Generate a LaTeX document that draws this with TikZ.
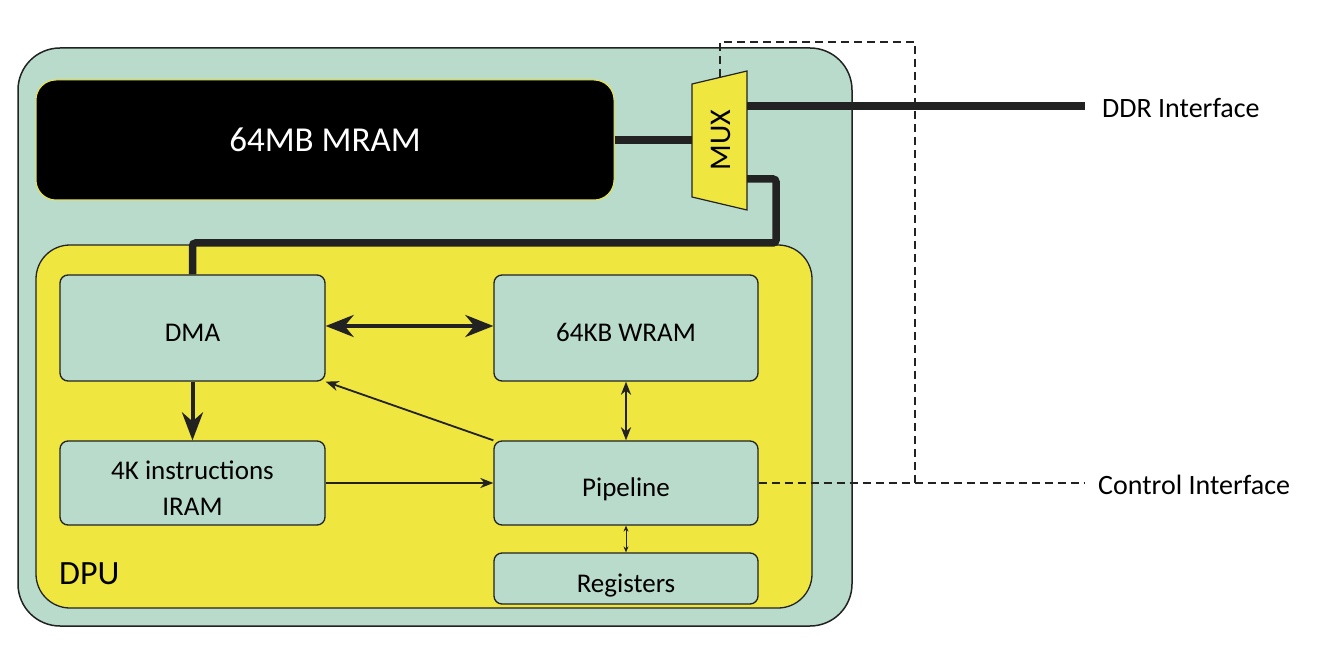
\documentclass[tikz,border=0pt]{standalone}
\usepackage{fontspec}
\setmainfont{Carlito}
\usetikzlibrary{arrows.meta}
\definecolor{mint}{HTML}{B9DBCB}
\definecolor{dpuyellow}{HTML}{F0E640}
\definecolor{ink}{HTML}{222222}
\begin{document}
\begin{tikzpicture}[x=1pt,y=-1pt,
  chipbox/.style={draw=ink, line width=1.5pt, fill=mint, rounded corners=42pt, inner sep=0pt},
  dpubox/.style={draw=ink, line width=1.3pt, fill=dpuyellow, rounded corners=34pt, inner sep=0pt},
  mrambox/.style={draw=dpuyellow, line width=1pt, fill=black, rounded corners=20pt, text=white, font=\fontsize{35}{42}\selectfont, inner sep=0pt},
  blk/.style={draw=ink, line width=1.3pt, fill=mint, rounded corners=8pt, font=\fontsize{27}{33}\selectfont, text=black, inner sep=0pt, align=center},
  onel/.style={text height=27pt, text depth=0pt},
  bus/.style={draw=ink, line width=7.5pt},
  ctrl/.style={draw=ink, line width=1.8pt, dash pattern=on 8pt off 5pt},
  bigarr/.style={draw=ink, line width=4pt, {Stealth[length=28pt,width=22pt,inset=9pt]}-{Stealth[length=28pt,width=22pt,inset=9pt]}},
  downarr/.style={draw=ink, line width=4pt, -{Stealth[length=28pt,width=21pt,inset=9pt]}},
  midarr/.style={draw=ink, line width=2.2pt, {Stealth[length=13pt,width=10pt,inset=4pt]}-{Stealth[length=13pt,width=10pt,inset=4pt]}},
  thinarr/.style={draw=ink, line width=1.8pt, -{Stealth[length=13pt,width=10pt,inset=4pt]}},
  tinyarr/.style={draw=ink, line width=0.9pt, {Stealth[length=6pt,width=5pt,inset=2pt]}-{Stealth[length=6pt,width=5pt,inset=2pt]}},
  lab/.style={font=\fontsize{28}{34}\selectfont, text=black, anchor=west, inner sep=0pt}
]
\useasboundingbox (0,0) rectangle (1342,647);

% containers
\node[chipbox, minimum width=834pt, minimum height=578pt] (chip) at (435,337) {};
\node[mrambox, minimum width=578pt, minimum height=120pt] (mram) at (325,140) {64MB MRAM};
\node[dpubox, minimum width=776pt, minimum height=363pt] (dpu) at (424,426.5) {};
\node[font=\fontsize{34}{40}\selectfont, anchor=west, inner sep=0pt, text=black] (dpulab) at (59,574) {DPU};

% blocks
\node[blk, onel, minimum width=265pt, minimum height=106pt] (dma) at (192.5,328) {DMA};
\node[blk, onel, minimum width=264pt, minimum height=106pt] (wram) at (626,328) {64KB WRAM};
\node[blk, minimum width=265pt, minimum height=84pt] (iram) at (192.5,483) {\begin{tabular}{@{}c@{}}\rule{0pt}{38pt}4K instructions\\[3pt]IRAM\end{tabular}};
\node[blk, onel, minimum width=264pt, minimum height=84pt] (pipe) at (626,483) {Pipeline};
\node[blk, onel, minimum width=264pt, minimum height=51pt] (regs) at (626,578.5) {Registers};

% MUX
\draw[draw=ink, line width=1.2pt, fill=dpuyellow] (692,84) -- (747,71) -- (747,210) -- (692,197) -- cycle;
\node[rotate=90, font=\fontsize{30}{36}\selectfont, text=black, inner sep=0pt] (mux) at (721,140) {MUX};
\coordinate (muxW) at (692,140);
\coordinate (muxE1) at (747,106);
\coordinate (muxE2) at (747,179);
\coordinate (muxT) at (720,77);
\coordinate (ddr) at (1085,106);
\coordinate (ctrlend) at (1085,483);
\coordinate (ctrlcorner) at (915,42);
\coordinate (busturn) at (776,243);

% buses
\draw[bus] (mram.east) -- (muxW);
\draw[bus] (muxE1) -- (ddr);
\draw[bus, rounded corners=3pt] (muxE2) -| (busturn) -| (dma.north);

% control
\draw[ctrl] (muxT) |- (ctrlcorner) -- (915,483);
\draw[ctrl] (pipe.east) -- (ctrlend);

% arrows
\draw[bigarr] (dma.east |- 0,326) -- (wram.west |- 0,326);
\draw[downarr] (dma.south) -- (iram.north);
\draw[midarr] (wram.south) -- (pipe.north);
\draw[thinarr] (pipe.north west) -- (dma.south east);
\draw[thinarr] (iram.east) -- (pipe.west);
\draw[tinyarr] (pipe.south) -- (regs.north);

% labels
\node[lab] (ddrlab) at (1102,108) {DDR Interface};
\node[lab] (ctrllab) at (1098,485) {Control Interface};
\end{tikzpicture}
\end{document}
